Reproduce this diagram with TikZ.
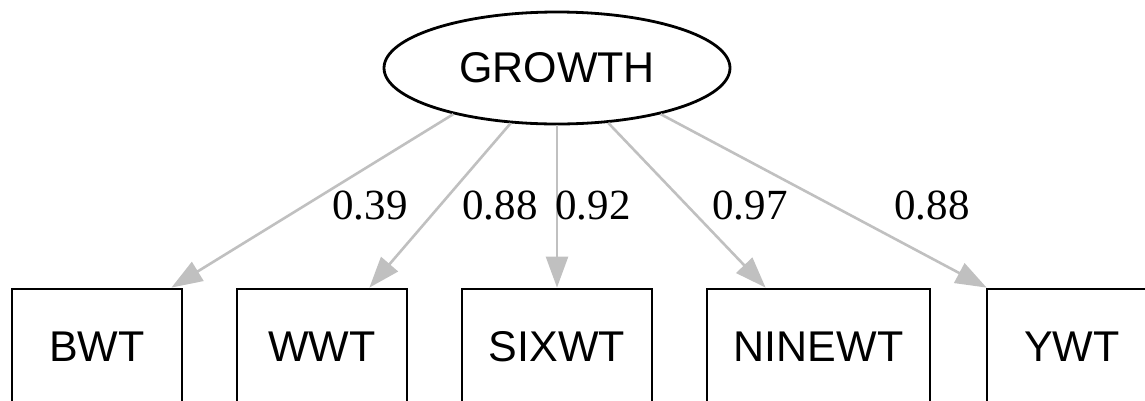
\documentclass[tikz,border=0pt]{standalone}
\usepackage{fontspec}
\setmainfont{Liberation Sans}
\newfontfamily\labfont{Liberation Serif}
\usetikzlibrary{shapes.geometric,arrows.meta}
\definecolor{edgegray}{RGB}{192,192,192}
\tikzset{
  latent/.style={ellipse,draw=black,line width=2.8pt,minimum width=346pt,minimum height=112pt,inner sep=0pt,font=\fontsize{43}{50}\selectfont},
  obsbox/.style={rectangle,draw=black,line width=2.8pt,minimum height=116pt,inner sep=0pt,font=\fontsize{43}{50}\selectfont},
  loadarrow/.style={draw=edgegray,line width=2.6pt,-{Triangle[length=31pt,width=22pt]},fill=edgegray},
  loadlabel/.style={inner sep=0pt,font=\labfont\fontsize{43}{50}\selectfont}
}
\begin{document}
\begin{tikzpicture}[x=1pt,y=-1pt]
\useasboundingbox (0,0) rectangle (1145,400);
\clip (0,0) rectangle (1145,400);
\node[latent] (g) at (557,68) {GROWTH};
\node[obsbox,minimum width=170pt] (bwt) at (97,347) {BWT};
\node[obsbox,minimum width=170pt] (wwt) at (322,347) {WWT};
\node[obsbox,minimum width=190pt] (sixwt) at (557,347) {SIXWT};
\node[obsbox,minimum width=223pt] (ninewt) at (818.5,347) {NINEWT};
\node[obsbox,minimum width=170pt] (ywt) at (1072,347) {YWT};
\draw[loadarrow] (g.204) -- ([xshift=-12pt]bwt.north east);
\draw[loadarrow] (g.230) -- ([xshift=-39pt]wwt.north east);
\draw[loadarrow] (g.south) -- (sixwt.north);
\draw[loadarrow] (g.313) -- ([xshift=60pt]ninewt.north west);
\draw[loadarrow] (g.336) -- ([xshift=1pt]ywt.north west);
\node[loadlabel] (l1) at (370,205) {0.39};
\node[loadlabel] (l2) at (500,205) {0.88};
\node[loadlabel] (l3) at (593,205) {0.92};
\node[loadlabel] (l4) at (750,205) {0.97};
\node[loadlabel] (l5) at (932,205) {0.88};
\end{tikzpicture}
\end{document}
